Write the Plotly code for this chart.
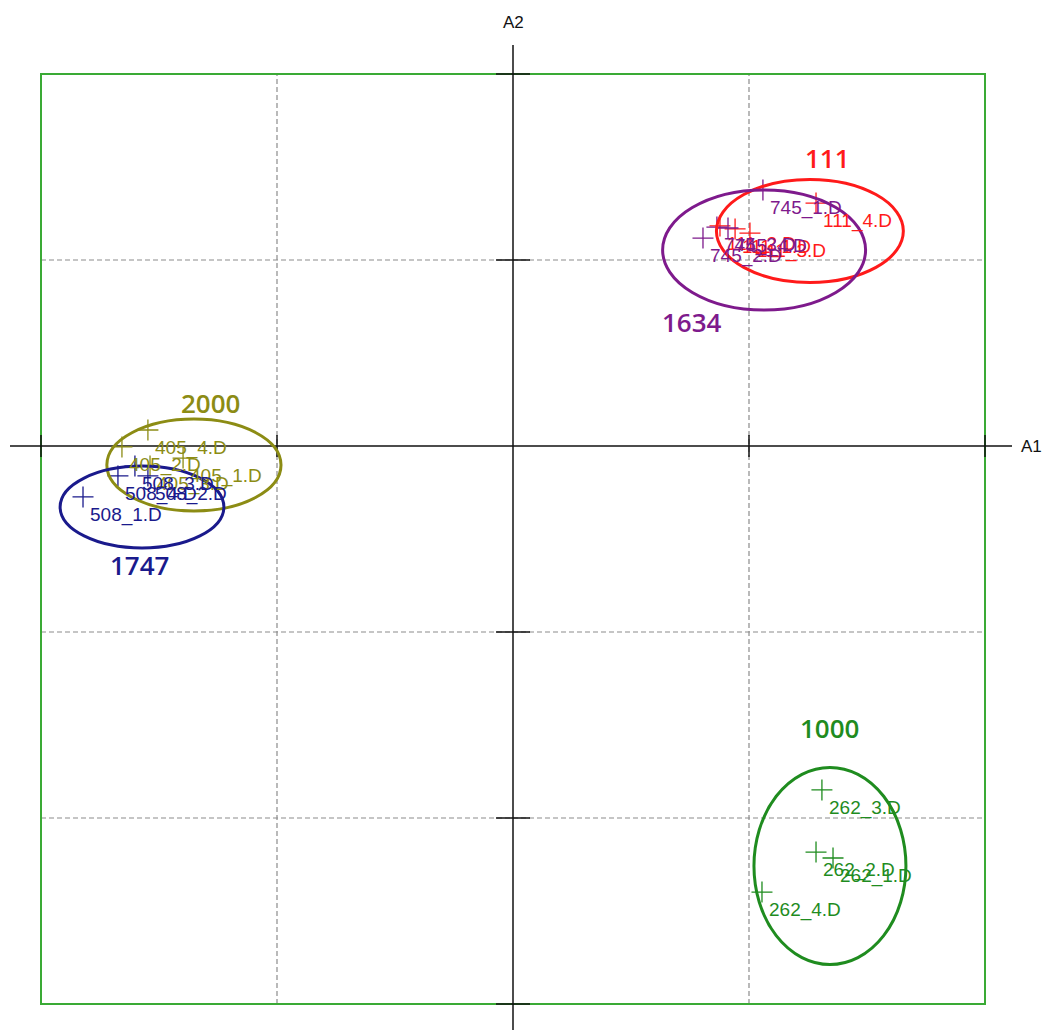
import plotly.graph_objects as go

# --- sample scores on the first two discriminant axes -----------------------
sample_names = [
    "111_1.D", "111_2.D", "111_3.D", "111_4.D",
    "745_1.D", "745_2.D", "745_3.D", "745_4.D",
    "405_1.D", "405_2.D", "405_3.D", "405_4.D",
    "508_1.D", "508_2.D", "508_3.D", "508_4.D",
    "262_1.D", "262_2.D", "262_3.D", "262_4.D",
]
sample_a1 = [
    0.941, 0.877, 1.004, 1.284,
    1.059, 0.805, 0.864, 0.911,
    -1.398, -1.657, -1.538, -1.547,
    -1.822, -1.547, -1.602, -1.674,
    1.356, 1.284, 1.309, 1.055,
]
sample_a2 = [
    1.167, 1.183, 1.145, 1.306,
    1.376, 1.118, 1.177, 1.172,
    -0.065, -0.005, -0.108, 0.086,
    -0.274, -0.161, -0.108, -0.161,
    -2.215, -2.183, -1.849, -2.398,
]
sample_group = [
    "111", "111", "111", "111",
    "1634", "1634", "1634", "1634",
    "2000", "2000", "2000", "2000",
    "1747", "1747", "1747", "1747",
    "1000", "1000", "1000", "1000",
]

# --- group confidence ellipses ----------------------------------------------
groups = ["111", "1634", "2000", "1747", "1000"]
group_colors = ["#ff1a1a", "#7e1a8c", "#8c8c14", "#1a1a8c", "#1f8c1f"]
ellipse_cx = [1.258, 1.064, -1.352, -1.572, 1.343]
ellipse_cy = [1.156, 1.054, -0.102, -0.328, -2.258]
ellipse_rx = [0.396, 0.430, 0.369, 0.347, 0.322]
ellipse_ry = [0.277, 0.323, 0.247, 0.220, 0.530]
group_label_x = [1.331, 0.758, -1.280, -1.581, 1.339]
group_label_y = [1.548, 0.667, 0.231, -0.640, -1.516]

# --- frame / grid ------------------------------------------------------------
frame_x = [-2, 2]
frame_y = [-3, 2]
grid_x = [-1, 1]
grid_y = [1, -1, -2]
tick_x = [-2, -1, 1, 2]
tick_y = [2, 1, -1, -2, -3]

PX_X = 236.0   # pixels per unit on A1
PX_Y = 186.0   # pixels per unit on A2
W, H = 1049, 1030
ORIGIN_PX = (513, 446)

LABEL_FONT = "Liberation Sans, Arial, sans-serif"

color_of = dict(zip(groups, group_colors))

fig = go.Figure()
shapes = []
annotations = []

# dashed grid
grid_line = dict(color="#8c8c8c", width=1.2, dash="5px,3px")
for gx in grid_x:
    shapes.append(dict(type="line", xref="x", yref="y", x0=gx, x1=gx,
                       y0=frame_y[0], y1=frame_y[1], layer="below", line=grid_line))
for gy in grid_y:
    shapes.append(dict(type="line", xref="x", yref="y", x0=frame_x[0], x1=frame_x[1],
                       y0=gy, y1=gy, layer="below", line=grid_line))

# green frame
shapes.append(dict(type="rect", xref="x", yref="y", x0=frame_x[0], x1=frame_x[1],
                   y0=frame_y[0], y1=frame_y[1], layer="below",
                   line=dict(color="#3aaa35", width=2)))

# central axes through the origin
ax_left = (10 - ORIGIN_PX[0]) / PX_X
ax_right = (1012 - ORIGIN_PX[0]) / PX_X
ax_top = (ORIGIN_PX[1] - 45) / PX_Y
ax_bottom = (ORIGIN_PX[1] - H) / PX_Y
axis_line = dict(color="#111111", width=1.5)
shapes.append(dict(type="line", xref="x", yref="y", x0=ax_left, x1=ax_right, y0=0, y1=0,
                   layer="below", line=axis_line))
shapes.append(dict(type="line", xref="x", yref="y", x0=0, x1=0, y0=ax_bottom, y1=ax_top,
                   layer="below", line=axis_line))

tick_half_v = 11 / PX_Y
tick_half_h = 17 / PX_X
for tx in tick_x:
    shapes.append(dict(type="line", xref="x", yref="y", x0=tx, x1=tx,
                       y0=-tick_half_v, y1=tick_half_v, layer="below", line=axis_line))
for ty in tick_y:
    shapes.append(dict(type="line", xref="x", yref="y", x0=-tick_half_h, x1=tick_half_h,
                       y0=ty, y1=ty, layer="below", line=axis_line))

# group ellipses
for g, cx, cy, rx, ry in zip(groups, ellipse_cx, ellipse_cy, ellipse_rx, ellipse_ry):
    shapes.append(dict(type="circle", xref="x", yref="y",
                       x0=cx - rx, x1=cx + rx, y0=cy - ry, y1=cy + ry,
                       line=dict(color=color_of[g], width=3)))

# sample markers, one trace per group
for g in groups:
    xs = [x for x, gg in zip(sample_a1, sample_group) if gg == g]
    ys = [y for y, gg in zip(sample_a2, sample_group) if gg == g]
    fig.add_trace(go.Scatter(
        x=xs, y=ys, mode="markers", showlegend=False, hoverinfo="skip",
        marker=dict(symbol="cross-thin", size=15, color=color_of[g],
                    line=dict(color=color_of[g], width=1.3)),
    ))

# sample labels
for name, x, y, g in zip(sample_names, sample_a1, sample_a2, sample_group):
    annotations.append(dict(x=x, y=y, xref="x", yref="y", text=name, showarrow=False,
                            xanchor="left", yanchor="middle", xshift=5, yshift=-18,
                            font=dict(family=LABEL_FONT, size=19, color=color_of[g])))

# group labels
for g, lx, ly in zip(groups, group_label_x, group_label_y):
    annotations.append(dict(x=lx, y=ly, xref="x", yref="y", text=g, showarrow=False,
                            xanchor="center", yanchor="middle",
                            font=dict(family="Open Sans, DejaVu Sans, sans-serif", size=26,
                                      weight=600, color=color_of[g])))

# axis names
annotations.append(dict(x=0, y=(ORIGIN_PX[1] - 22) / PX_Y, xref="x", yref="y", text="A2",
                        showarrow=False, xanchor="center", yanchor="middle",
                        font=dict(family=LABEL_FONT, size=17, color="#111111")))
annotations.append(dict(x=(1031 - ORIGIN_PX[0]) / PX_X, y=0, xref="x", yref="y", text="A1",
                        showarrow=False, xanchor="center", yanchor="middle",
                        font=dict(family=LABEL_FONT, size=17, color="#111111")))

fig.update_layout(
    width=W, height=H, autosize=False,
    margin=dict(l=0, r=0, t=0, b=0),
    paper_bgcolor="white", plot_bgcolor="white",
    shapes=shapes, annotations=annotations,
    xaxis=dict(range=[-ORIGIN_PX[0] / PX_X, (W - ORIGIN_PX[0]) / PX_X], visible=False,
               fixedrange=True),
    yaxis=dict(range=[(ORIGIN_PX[1] - H) / PX_Y, ORIGIN_PX[1] / PX_Y], visible=False,
               fixedrange=True),
)

fig.write_html("out.html")
